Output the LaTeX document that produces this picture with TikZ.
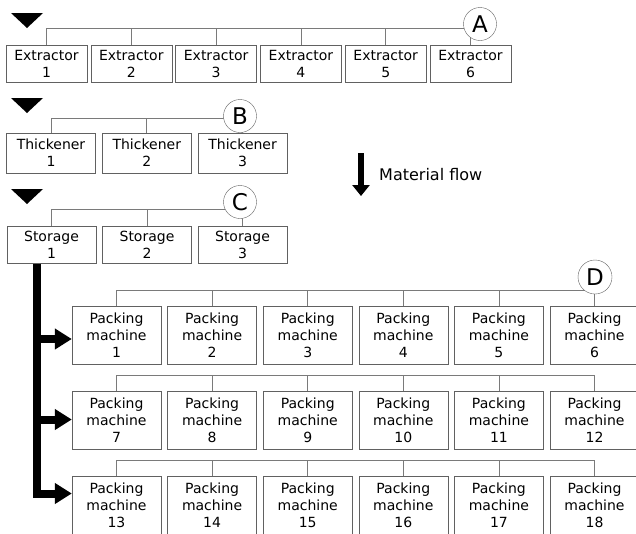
\documentclass[tikz,border=0pt]{standalone}
\usepackage{fontspec}
\setmainfont{DejaVu Sans}
\usetikzlibrary{arrows.meta}

\definecolor{boxgray}{gray}{0.38}
\definecolor{linegray}{gray}{0.48}

\tikzset{
	unitbox/.style={draw=boxgray,fill=white,align=center,inner sep=0pt,font=\fontsize{14}{17}\selectfont},
	busline/.style={draw=linegray,line width=0.8pt},
	tag/.style={circle,draw=boxgray,fill=white,minimum size=33pt,inner sep=0pt,font=\fontsize{23}{23}\selectfont},
	flowline/.style={line width=8pt,line join=miter,-{Triangle[length=17pt,width=20pt]}}
}

\begin{document}
\begin{tikzpicture}[x=1pt,y=-1pt]
			\useasboundingbox (0,0) rectangle (636,533);
			\clip (0,0) rectangle (636,533);
			% stage markers
			\foreach \y in {13,98,189}
				\fill (11,\y) -- ++(32,0) -- ++(-16,15) -- cycle;
			% extractors
			\foreach \i in {1,...,6}
				\node[unitbox,minimum width=81pt,minimum height=37pt] (e\i) at ({46.5+84.8*(\i-1)},63.5) {Extractor\\\i};
			% thickeners
			\foreach \i in {1,...,3}
				\node[unitbox,minimum width=89pt,minimum height=40pt] (t\i) at ({51+95.8*(\i-1)},153) {Thickener\\\i};
			% storages
			\foreach \i in {1,...,3}
				\node[unitbox,minimum width=89pt,minimum height=37pt] (s\i) at ({51.5+95.5*(\i-1)},245) {Storage\\\i};
			% packing machines
			\foreach \r in {0,1,2}
				\foreach \c in {1,...,6}{
					\pgfmathtruncatemacro{\n}{6*\r+\c}
					\node[unitbox,minimum width=89pt,minimum height=58pt] (p\n) at ({116.5+95.6*(\c-1)},{335.5+85*\r}) {Packing\\machine\\\n};
				}
			% buses
			\draw[busline] (e1.north) -- ++(0,-16) -| (e6.north);
			\foreach \i in {2,...,5}
				\draw[busline] (e\i.north) -- ++(0,-16);
			\draw[busline] (t1.north) -- ++(0,-14) -| (t3.north);
			\draw[busline] (t2.north) -- ++(0,-14);
			\draw[busline] (s1.north) -- ++(0,-17) -| (s3.north);
			\draw[busline] (s2.north) -- ++(0,-17);
			\foreach \r in {0,1,2}{
				\pgfmathtruncatemacro{\f}{6*\r+1}
				\pgfmathtruncatemacro{\l}{6*\r+6}
				\draw[busline] (p\f.north) -- ++(0,-16) -| (p\l.north);
				\foreach \c in {2,...,5}{
					\pgfmathtruncatemacro{\m}{6*\r+\c}
					\draw[busline] (p\m.north) -- ++(0,-16);
				}
			}
			% group labels
			\node[tag] (lblA) at (480,24) {A};
			\node[tag] (lblB) at (240,116) {B};
			\node[tag] (lblC) at (240,202) {C};
			\node[tag,minimum size=34pt] (lblD) at (595,277) {D};
			% flow from storage 1 to the packing lines
			\coordinate (trunk) at ([xshift=-15pt]s1.south);
			\coordinate (arr1) at ([yshift=-3.5pt]p1.west);
			\coordinate (arr2) at ([yshift=1pt]p7.west);
			\coordinate (arr3) at ([yshift=12pt]p13.west);
			\draw[flowline] (trunk) |- (arr3);
			\draw[flowline] (trunk |- arr1) -- (arr1);
			\draw[flowline] (trunk |- arr2) -- (arr2);
			% legend
			\coordinate (legtop) at (361,153);
			\coordinate (legtip) at (361,196);
			\draw[line width=6pt,-{Triangle[length=11pt,width=17pt]}] (legtop) -- (legtip);
			\node[anchor=west,font=\fontsize{16}{16}\selectfont,inner sep=0pt] (legtext) at (379,175) {Material flow};
		\end{tikzpicture}
\end{document}
